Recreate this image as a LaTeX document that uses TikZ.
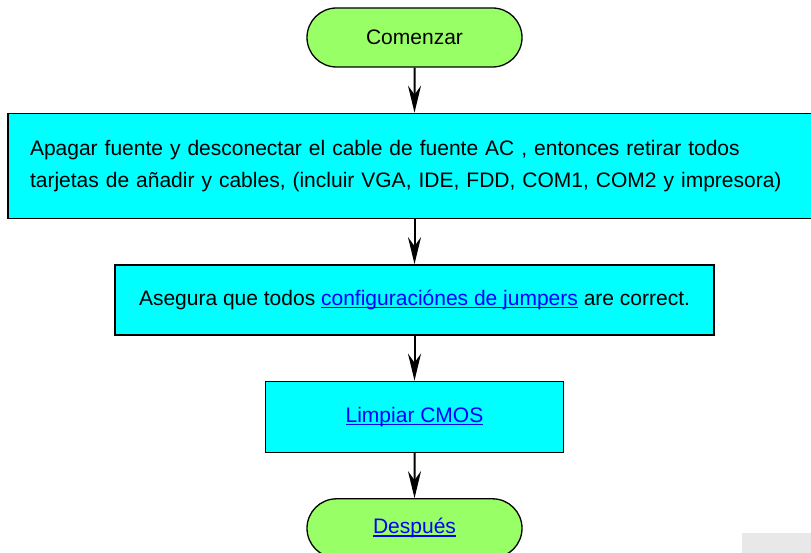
\documentclass[tikz,border=0pt]{standalone}
\usepackage{fontspec}
\setmainfont{Liberation Sans}
\usepackage{tikz}
\usetikzlibrary{positioning, arrows.meta, shapes.misc}

\definecolor{termgreen}{RGB}{153,255,102}
\definecolor{boxcyan}{RGB}{0,255,255}
\definecolor{marca}{RGB}{232,232,232}

\newcommand{\enlace}[1]{{\color{blue}\setbox0\hbox{#1}\rlap{\rule[-2.8pt]{\wd0}{1.3pt}}\box0}}

\begin{document}
\begin{tikzpicture}[x=1pt, y=-1pt, node distance=45pt,
    every node/.style={font=\fontsize{21}{32.5}\selectfont},
    terminal/.style={rounded rectangle, draw, line width=1.3pt, fill=termgreen,
        minimum width=215pt, minimum height=59pt, inner sep=0pt},
    stepbox/.style={rectangle, draw, line width=1.5pt, fill=boxcyan, inner sep=0pt},
    flow/.style={-{Stealth[length=27pt, width=13pt, inset=9pt]}, line width=2pt}]
    \useasboundingbox (0,0) rectangle (811,553);

    % nodes
    \node[terminal] (inicio) at (414.5,37.5) {Comenzar};
    \node[stepbox, below=of inicio, minimum width=812pt, minimum height=105pt,
        text width=768pt, inner xsep=22pt, align=left, xshift=-0.5pt] (apagar)
        {Apagar fuente y desconectar el cable de fuente AC , entonces retirar todos\\
         tarjetas de añadir y cables, (incluir VGA, IDE, FDD, COM1, COM2 y impresora)};
    \coordinate (eje) at (apagar.south -| inicio);
    \node[stepbox, below=of eje, minimum width=599pt, minimum height=70pt] (jumpers)
        {Asegura que todos \enlace{configuraciónes de jumpers} are correct.};
    \node[stepbox, below=of jumpers, minimum width=298pt, minimum height=71pt] (cmos)
        {\enlace{Limpiar CMOS}};
    \node[terminal, below=of cmos] (despues) {\enlace{Después}};

    % connectors
    \draw[flow] (inicio) -- (inicio |- apagar.north);
    \draw[flow] (eje) -- (jumpers);
    \draw[flow] (jumpers) -- (cmos);
    \draw[flow] (cmos) -- (despues);

    % watermark corner
    \fill[marca] (742,533) rectangle (815,556);
\end{tikzpicture}
\end{document}
